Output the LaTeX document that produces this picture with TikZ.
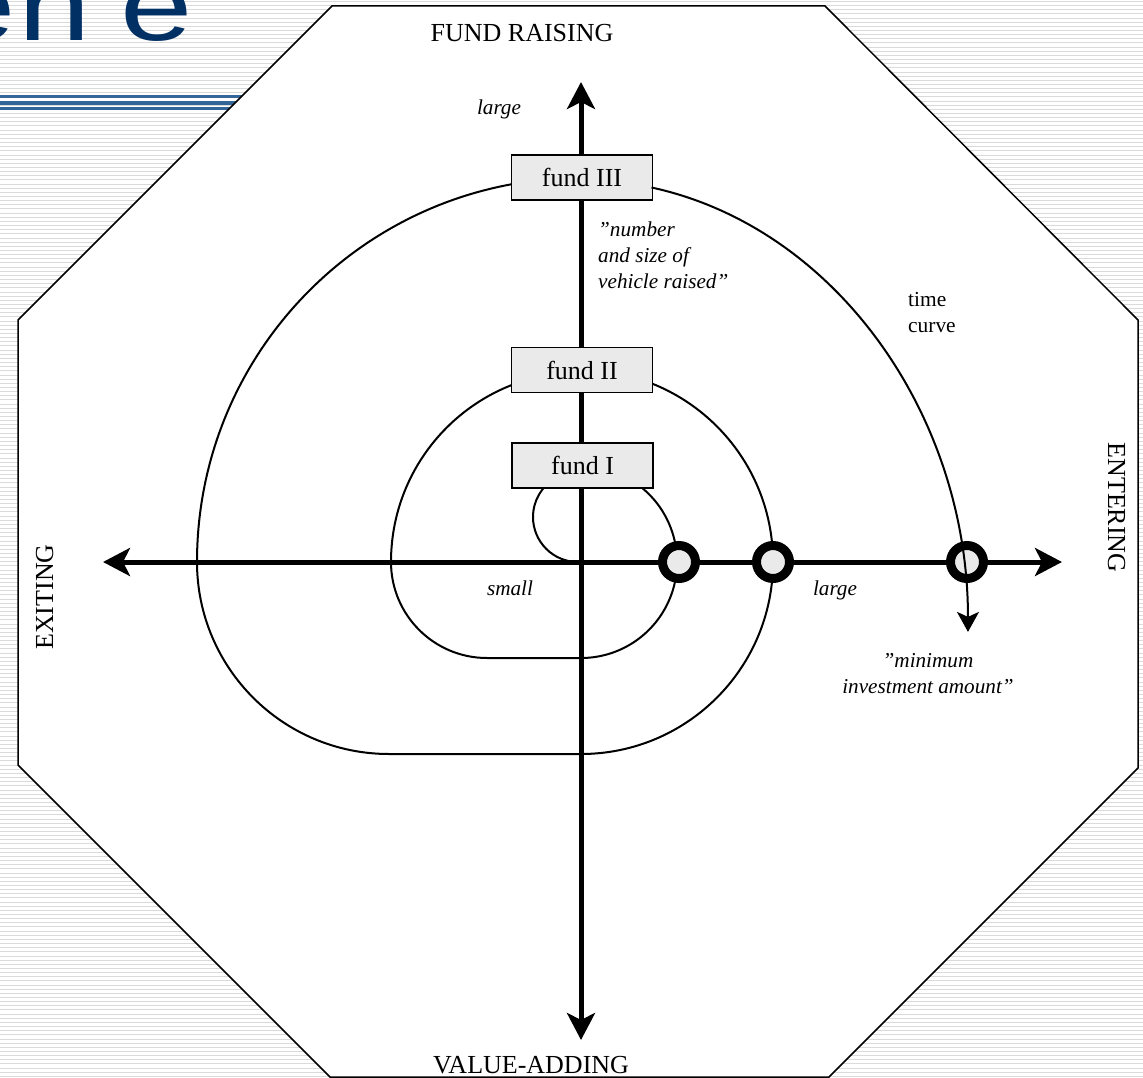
\documentclass[tikz,border=0pt]{standalone}
\usepackage{fontspec}
\setmainfont{Liberation Serif}
\newfontfamily\titlefont{Liberation Sans}
\usetikzlibrary{arrows.meta}
\definecolor{navy}{RGB}{0,48,100}
\definecolor{bandblue}{RGB}{51,102,153}
\definecolor{stripegray}{RGB}{218,218,218}
\definecolor{boxfill}{RGB}{234,234,234}
\begin{document}
\begin{tikzpicture}[x=1pt,y=1pt,
  bigtip/.tip={Stealth[length=27pt,width=28pt,inset=7pt]},
  smalltip/.tip={Stealth[length=20pt,width=22pt,inset=5pt]},
  stripe/.style={stripegray,line width=1pt},
  frame/.style={draw=black,fill=white,line width=1.5pt,line join=miter},
  axis/.style={line width=5pt,bigtip-bigtip},
  curve/.style={line width=2pt},
  fundbox/.style={draw=black,fill=boxfill,line width=1.6pt,minimum width=141pt,minimum height=45pt,inner sep=0pt,font=\fontsize{26}{30}\selectfont},
  ring/.style={circle,draw=black,fill=boxfill,line width=9pt,minimum size=33pt,inner sep=0pt},
  big/.style={font=\fontsize{26}{30}\selectfont,inner sep=0pt},
  note/.style={font=\itshape\fontsize{21.2}{26}\selectfont,inner sep=0pt},
  plainnote/.style={font=\fontsize{21.4}{26}\selectfont,inner sep=0pt}
]
\useasboundingbox (0,0) rectangle (1143,-1078);
\clip (0,0) rectangle (1143,-1078);
% background
\fill[white] (0,0) rectangle (1143,-1078);
\foreach \k in {0,...,260} {\draw[stripe] (0,{-1.5-\k*4.15}) -- (1143,{-1.5-\k*4.15});}
% slide title remnant
\node[anchor=base west,inner sep=0pt,text=navy,font=\titlefont\fontsize{100}{100}\selectfont,xscale=1.3] (ttl) at (-56.3,-41) {e\kern1.5pt n\kern22.8pt e};
\fill[bandblue] (0,-95.5) rectangle (300,-98.5);
\fill[bandblue] (0,-101.5) rectangle (300,-105.5);
\fill[bandblue] (0,-106.8) rectangle (300,-110);
% octagon
\draw[frame] (332,-6) -- (825,-6) -- (1138,-320) -- (1138,-768) -- (829,-1077) -- (330,-1077) -- (18,-765) -- (18,-320) -- cycle;
% axes
\coordinate (O) at (581,-562);
\coordinate (axE) at (1062,-562);
\coordinate (axW) at (103,-562);
\coordinate (axN) at (581,-82);
\coordinate (axS) at (581,-1040);
\draw[axis] (axW) -- (axE);
\draw[axis] (axS) -- (axN);
% spiral
\draw[curve] (578,-562) arc[start angle=270,end angle=120,radius=45pt]
  -- (631.9,-480.6) arc[start angle=58,end angle=-90,radius=96pt]
  -- (487,-658) arc[start angle=270,end angle=180,radius=96pt]
  arc[start angle=180,end angle=90,radius=190pt]
  -- (581,-370) arc[start angle=90,end angle=-90,radius=192pt]
  -- (389,-754) arc[start angle=270,end angle=180,radius=192pt]
  arc[start angle=180,end angle=90,radius=384pt];
% fund boxes
\node[fundbox] (f3) at (582,-177.5) {fund III};
\node[fundbox] (f2) at (582,-370) {fund II};
\node[fundbox] (f1) at (582.5,-465.5) {fund I};
% entry points
\node[ring] (c1) at (679,-562) {};
\node[ring] (c2) at (773,-562) {};
\node[ring] (c3) at (967,-562) {};
% time curve
\draw[curve,-smalltip] (651.5,-187.5) arc[start angle=79.5,end angle=0,x radius=387pt,y radius=452pt];
% labels
\node[big,anchor=base] (fr) at (522,-42) {FUND RAISING};
\node[big,anchor=base] (va) at (531,-1073) {VALUE-ADDING};
\node[big,anchor=base,rotate=-90] (en) at (1108,-507.5) {ENTERING};
\node[big,anchor=base,rotate=90] (ex) at (53,-597) {EXITING};
\node[note,anchor=base] (lg1) at (499,-115) {large};
\node[note,anchor=north west,align=left] (nsz) at (598,-221.5) {”number\\and size of\\vehicle raised”};
\node[plainnote,anchor=north west,align=left] (tc) at (908,-292) {time\\curve};
\node[note,anchor=base] (sm) at (510,-595) {small};
\node[note,anchor=base] (lg2) at (835,-595) {large};
\node[note,anchor=north,align=center] (mia) at (928,-653) {”minimum\\investment amount”};
\end{tikzpicture}
\end{document}
